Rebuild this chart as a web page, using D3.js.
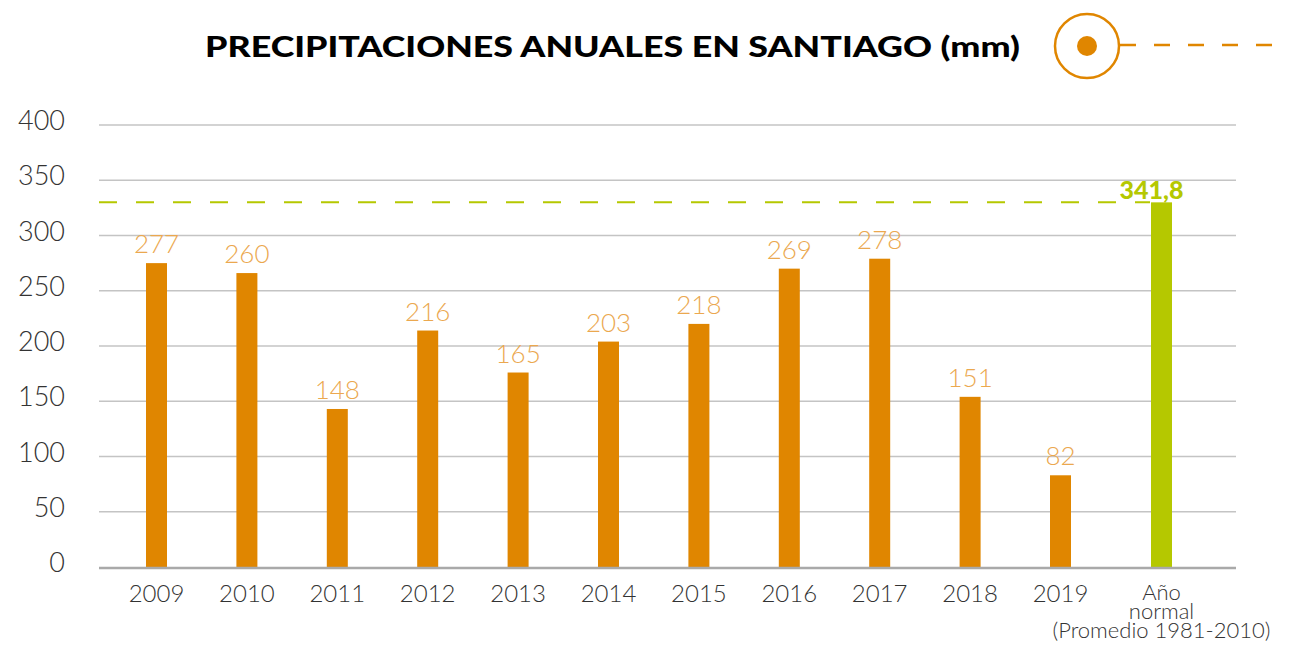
<!DOCTYPE html>
<html>
<head>
<meta charset="utf-8">
<script src="https://cdn.jsdelivr.net/npm/d3@7/dist/d3.min.js"></script>
<style>
  body { margin: 0; background: #fff; }
  svg text { font-family: "Lato", "Open Sans", sans-serif; }
</style>
</head>
<body>
<div id="plot"></div>
<script>
// data
var categories = ["2009", "2010", "2011", "2012", "2013", "2014", "2015", "2016", "2017", "2018", "2019", "normal"];
var barValues = [275, 266, 143, 214, 176, 204, 220, 270, 279, 154, 83, 330];
var labelValues = ["277", "260", "148", "216", "165", "203", "218", "269", "278", "151", "82", "341,8"];
var tickLabels = [0, 50, 100, 150, 200, 250, 300, 350, 400];
var normalLabel = ["Año", "normal", "(Promedio 1981-2010)"];
var title = "PRECIPITACIONES ANUALES EN SANTIAGO (mm)";

var width = 1289, height = 645;
var orange = "#e08600", orangeLight = "#eba84f", green = "#b5c800";

var svg = d3.select("#plot").append("svg")
    .attr("width", width)
    .attr("height", height);

// title
svg.append("text")
    .attr("x", 205).attr("y", 57)
    .attr("textLength", 815).attr("lengthAdjust", "spacingAndGlyphs")
    .style("font-size", "29px").style("font-weight", 900)
    .attr("fill", "#000")
    .text(title);

// icon
svg.append("circle").attr("cx", 1087).attr("cy", 46).attr("r", 32)
    .attr("fill", "none").attr("stroke", orange).attr("stroke-width", 2.5);
svg.append("circle").attr("cx", 1087).attr("cy", 46).attr("r", 10).attr("fill", orange);
svg.append("line").attr("x1", 1120).attr("x2", 1275).attr("y1", 45).attr("y2", 45)
    .attr("stroke", orange).attr("stroke-width", 2.5).attr("stroke-dasharray", "16,18");

// scales
var x = d3.scalePoint().domain(categories.slice(0, 11)).range([156.5, 1060.5]);
var xPos = d => d === "normal" ? 1161.5 : x(d);
var y = d3.scaleLinear().domain([0, 400]).range([567, 125]);

// grid
svg.append("g")
    .selectAll("line")
    .data(tickLabels.slice(1))
    .enter().append("line")
    .attr("x1", 99).attr("x2", 1236)
    .attr("y1", d => y(d)).attr("y2", d => y(d))
    .attr("stroke", "#c4c4c4").attr("stroke-width", 1.5);

// y axis
var yAxis = svg.append("g")
    .attr("transform", "translate(65,0)")
    .call(d3.axisLeft(y).tickValues(tickLabels).tickSize(0).tickPadding(0));
yAxis.select(".domain").remove();
yAxis.selectAll("text")
    .attr("dy", "0.32em").attr("y", -4)
    .style("font-size", "27px").style("font-weight", 300)
    .style("font-family", "Lato, sans-serif")
    .attr("fill", "#333");

// normal dashed line
svg.append("line")
    .attr("x1", 99).attr("x2", 1150)
    .attr("y1", y(barValues[11])).attr("y2", y(barValues[11]))
    .attr("stroke", green).attr("stroke-width", 2)
    .attr("stroke-dasharray", "18,19");

// bars
var barW = 21;
svg.selectAll("rect.bar")
    .data(categories)
    .enter().append("rect")
    .attr("class", "bar")
    .attr("x", d => xPos(d) - barW / 2)
    .attr("y", (d, i) => y(barValues[i]))
    .attr("width", barW)
    .attr("height", (d, i) => y(0) - y(barValues[i]))
    .attr("fill", d => d === "normal" ? green : orange);

// value labels
svg.selectAll("text.val")
    .data(categories)
    .enter().append("text")
    .attr("class", "val")
    .attr("x", d => d === "normal" ? xPos(d) - 10 : xPos(d))
    .attr("y", (d, i) => y(barValues[i]) - (d === "normal" ? 3 : 10))
    .attr("text-anchor", "middle")
    .style("font-size", d => d === "normal" ? "25px" : "26px")
    .style("font-weight", d => d === "normal" ? 900 : 300)
    .attr("fill", d => d === "normal" ? green : orangeLight)
    .text((d, i) => labelValues[i]);

// x axis line
svg.append("line")
    .attr("x1", 99).attr("x2", 1236)
    .attr("y1", y(0) + 1).attr("y2", y(0) + 1)
    .attr("stroke", "#a9a9a9").attr("stroke-width", 2.5);

// x labels
svg.selectAll("text.xl")
    .data(categories.slice(0, 11))
    .enter().append("text")
    .attr("class", "xl")
    .attr("x", d => x(d)).attr("y", 602)
    .attr("text-anchor", "middle")
    .style("font-size", "24px").style("font-weight", 300)
    .attr("fill", "#333")
    .text(d => d);

svg.selectAll("text.nl")
    .data(normalLabel)
    .enter().append("text")
    .attr("class", "nl")
    .attr("x", (d, i) => xPos("normal") + (i === 2 ? 0 : 0))
    .attr("y", (d, i) => 600 + i * 19)
    .attr("text-anchor", "middle")
    .style("font-size", "22px").style("font-weight", 300)
    .attr("fill", "#333")
    .text(d => d);
</script>
</body>
</html>
